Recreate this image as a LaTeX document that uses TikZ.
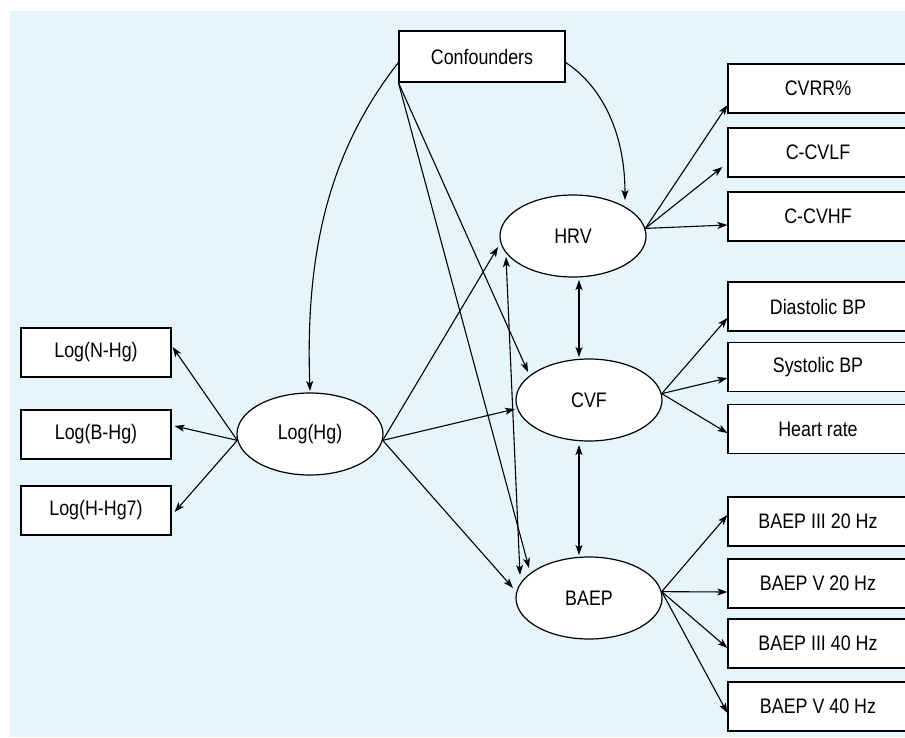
\documentclass[tikz,border=0pt]{standalone}
\usepackage{fontspec}
\setmainfont[FakeStretch=0.85]{Liberation Sans}
\usetikzlibrary{shapes.geometric,arrows.meta,calc}
\definecolor{bgblue}{RGB}{230,244,252}
\begin{document}
\begin{tikzpicture}[x=1pt,y=-1pt,
  box/.style={draw,line width=1.2pt,fill=white,rectangle,inner sep=0pt,minimum height=49pt},
  lbox/.style={box,minimum width=150pt},
  rbox/.style={box,minimum width=180pt},
  ell/.style={draw,line width=1.2pt,fill=white,ellipse,minimum width=146pt,minimum height=82pt,inner sep=0pt},
  tip/.tip={Stealth[length=10pt,width=7pt,inset=2.5pt]},
  arr/.style={line width=1.1pt,-tip},
  darr/.style={line width=1.1pt,tip-tip},
  font=\fontsize{21}{25}\selectfont]
\useasboundingbox (0,0) rectangle (905,737);
\fill[bgblue] (10,11) rectangle (905,737);

% nodes
\node[box,minimum width=166pt,minimum height=51pt] (Conf) at (482,56.5) {Confounders};

\node[ell] (LogHg) at (310,434) {Log(Hg)};
\node[ell] (HRV) at (573,236) {HRV};
\node[ell] (CVF) at (589,400) {CVF};
\node[ell] (BAEP) at (589,598) {BAEP};

\node[lbox] (LNHg) at (96,352.5) {Log(N-Hg)};
\node[lbox] (LBHg) at (96,434.5) {Log(B-Hg)};
\node[lbox] (LHHg) at (96,510.5) {Log(H-Hg7)};

\node[rbox] (CVRR) at (818,88.5) {CVRR\%};
\node[rbox] (CCVLF) at (818,152.5) {C-CVLF};
\node[rbox] (CCVHF) at (818,216.5) {C-CVHF};
\node[rbox] (Dia) at (818,306.5) {Diastolic BP};
\node[rbox] (Sys) at (818,367) {Systolic BP};
\node[rbox] (HR) at (818,429) {Heart rate};
\node[rbox] (B3a) at (818,521.5) {BAEP III 20 Hz};
\node[rbox] (B5a) at (818,583.5) {BAEP V 20 Hz};
\node[rbox] (B3b) at (818,643.5) {BAEP III 40 Hz};
\node[rbox] (B5b) at (818,706.5) {BAEP V 40 Hz};

% confounders
\draw[arr] ($(Conf.west)+(0,6)$) .. controls (330,150) and (305,250) .. ($(LogHg)+(0,-43)$);
\draw[arr] ($(Conf.east)+(0,6)$) .. controls (600,85) and (625,130) .. ($(HRV)+(52,-36)$);
\draw[arr] (Conf.south west) -- ($(CVF)+(-61,-28)$);
\draw[arr] (Conf.south west) -- ($(BAEP)+(-60,-30)$);

% Log(Hg) to indicators
\draw[arr] (LogHg.185) -- ($(LNHg.east)+(1,-5.5)$);
\draw[arr] (LogHg.185) -- ($(LBHg.east)+(3,-8.5)$);
\draw[arr] (LogHg.185) -- ($(LHHg.east)+(3,1.5)$);

% Log(Hg) to outcomes
\draw[arr] (LogHg.-5) -- ($(HRV)+(-75,11)$);
\draw[arr] (LogHg.-5) -- ($(CVF)+(-74,9)$);
\draw[arr] (LogHg.-5) -- ($(BAEP)+(-76,-10)$);

% correlations
\draw[darr] ($(HRV)+(6,44)$) -- ($(CVF)+(-10,-43)$);
\draw[darr] ($(CVF)+(-10,45)$) -- ($(BAEP)+(-10,-43)$);
\draw[darr] ($(HRV)+(-67,21)$) -- ($(BAEP)+(-69,-23)$);

% HRV indicators
\draw[arr] (HRV.6) -- ($(CVRR.west)+(0,16.5)$);
\draw[arr] (HRV.6) -- ($(CCVLF.west)+(-5,14.5)$);
\draw[arr] (HRV.6) -- ($(CCVHF.west)+(0,8.5)$);

% CVF indicators
\draw[arr] (CVF.5) -- ($(Dia.west)+(0,11.5)$);
\draw[arr] (CVF.5) -- ($(Sys.west)+(0,11)$);
\draw[arr] (CVF.5) -- ($(HR.west)+(0,4)$);

% BAEP indicators
\draw[arr] (BAEP.5) -- ($(B3a.west)+(0,-6.5)$);
\draw[arr] (BAEP.5) -- ($(B5a.west)+(0,8.5)$);
\draw[arr] (BAEP.5) -- ($(B3b.west)+(0,4.5)$);
\draw[arr] (BAEP.5) -- ($(B5b.west)+(0,6.5)$);
\end{tikzpicture}
\end{document}
